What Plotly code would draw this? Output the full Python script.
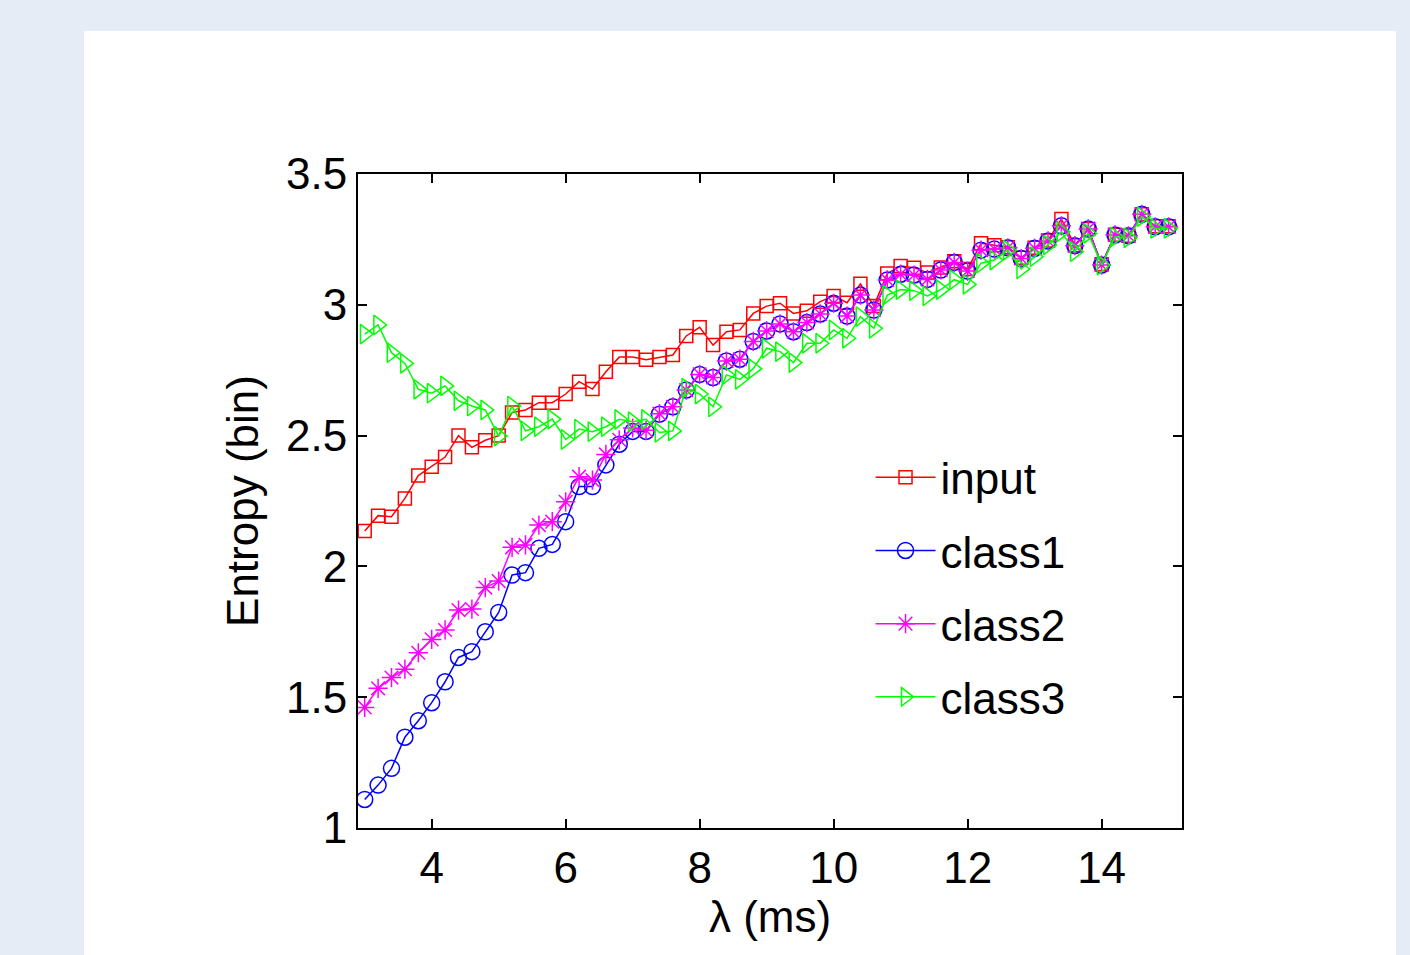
import plotly.graph_objects as go

lam = [round(3 + 0.2 * i, 1) for i in range(61)]

entropy_input = [
    2.135, 2.194, 2.19, 2.26, 2.347, 2.381, 2.418, 2.50, 2.455, 2.482,
    2.50, 2.588, 2.598, 2.626, 2.626, 2.659, 2.706, 2.678, 2.744, 2.80,
    2.80, 2.79, 2.80, 2.808, 2.881, 2.914, 2.846, 2.897, 2.904, 2.967,
    2.995, 3.006, 2.967, 2.977, 3.012, 3.034, 3.008, 3.08, 2.995, 3.12,
    3.148, 3.142, 3.123, 3.143, 3.166, 3.137, 3.235, 3.228, 3.22, 3.18,
    3.218, 3.246, 3.328, 3.228, 3.29, 3.155, 3.268, 3.264, 3.346, 3.30,
    3.30,
]

entropy_class1 = [
    1.109, 1.164, 1.228, 1.347, 1.41, 1.479, 1.559, 1.652, 1.674, 1.75,
    1.824, 1.967, 1.976, 2.069, 2.084, 2.171, 2.305, 2.305, 2.388, 2.467,
    2.516, 2.516, 2.582, 2.61, 2.674, 2.734, 2.722, 2.785, 2.792, 2.86,
    2.90, 2.927, 2.897, 2.932, 2.965, 3.006, 2.957, 3.037, 2.98, 3.095,
    3.117, 3.114, 3.097, 3.133, 3.162, 3.129, 3.209, 3.213, 3.218, 3.177,
    3.216, 3.244, 3.302, 3.226, 3.29, 3.152, 3.267, 3.264, 3.346, 3.298,
    3.298,
]

entropy_class2 = [
    1.461, 1.534, 1.575, 1.607, 1.67, 1.721, 1.757, 1.833, 1.837, 1.919,
    1.944, 2.073, 2.082, 2.158, 2.171, 2.247, 2.343, 2.33, 2.428, 2.484,
    2.529, 2.52, 2.584, 2.61, 2.674, 2.734, 2.722, 2.785, 2.792, 2.86,
    2.90, 2.927, 2.897, 2.932, 2.965, 3.006, 2.957, 3.037, 2.98, 3.095,
    3.117, 3.114, 3.097, 3.133, 3.162, 3.129, 3.209, 3.213, 3.218, 3.177,
    3.216, 3.244, 3.302, 3.226, 3.29, 3.152, 3.267, 3.264, 3.346, 3.298,
    3.298,
]

entropy_class3 = [
    2.888, 2.923, 2.817, 2.776, 2.677, 2.662, 2.69, 2.633, 2.613, 2.598,
    2.498, 2.613, 2.518, 2.534, 2.563, 2.485, 2.525, 2.515, 2.534, 2.562,
    2.553, 2.562, 2.512, 2.518, 2.681, 2.659, 2.61, 2.732, 2.715, 2.756,
    2.834, 2.821, 2.779, 2.853, 2.853, 2.904, 2.872, 2.955, 2.91, 3.037,
    3.058, 3.054, 3.034, 3.058, 3.096, 3.078, 3.159, 3.171, 3.209, 3.137,
    3.184, 3.229, 3.279, 3.203, 3.273, 3.152, 3.26, 3.256, 3.337, 3.292,
    3.292,
]

series = [
    ("input", entropy_input, "#ff0000", "square-open", 13),
    ("class1", entropy_class1, "#0000ff", "circle-open", 16),
    ("class2", entropy_class2, "#ff00ff", "asterisk-open", 16),
    ("class3", entropy_class3, "#00ff00", "triangle-right-open", 17),
]

x_ticks = [4, 6, 8, 10, 12, 14]
y_ticks = [1, 1.5, 2, 2.5, 3, 3.5]
y_tick_text = ["1", "1.5", "2", "2.5", "3", "3.5"]

FONT = "Liberation Sans, Arial, Helvetica, sans-serif"

fig = go.Figure()
for name, vals, color, sym, size in series:
    fig.add_trace(go.Scatter(
        x=lam, y=vals, name=name, mode="lines+markers",
        line=dict(color=color, width=1.5),
        marker=dict(symbol=sym, size=size, color=color,
                    line=dict(color=color, width=1.5)),
        legendgroup=name,
    ))

fig.add_shape(type="rect", xref="paper", yref="paper",
              x0=-0.3325, x1=1.2597, y0=-0.4, y1=1.2187,
              fillcolor="white", line=dict(width=0), layer="below")

axis_common = dict(
    showline=True, linecolor="black", linewidth=2, mirror="ticks",
    ticks="inside", ticklen=9, tickwidth=1.5, tickcolor="black",
    showgrid=False, zeroline=False,
    tickfont=dict(family=FONT, size=44, color="black"),
)

fig.update_layout(
    width=1410, height=955,
    margin=dict(l=358, r=228, t=174, b=127),
    paper_bgcolor="#e5ecf6",
    plot_bgcolor="white",
    font=dict(family=FONT, color="black"),
    showlegend=True,
    legend=dict(
        x=0.622, y=0.59, xanchor="left", yanchor="top",
        bgcolor="rgba(0,0,0,0)",
        font=dict(family=FONT, size=44, color="black"),
        tracegroupgap=13,
        itemwidth=60,
    ),
    xaxis=dict(
        range=[2.9, 15.2], tickvals=x_ticks,
        title=dict(text="λ (ms)", font=dict(family=FONT, size=44, color="black"), standoff=4),
        **axis_common,
    ),
    yaxis=dict(
        range=[1, 3.5], tickvals=y_ticks, ticktext=y_tick_text,
        title=dict(text="Entropy (bin)", font=dict(family=FONT, size=44, color="black"), standoff=14),
        **axis_common,
    ),
)

fig.write_html("out.html")
